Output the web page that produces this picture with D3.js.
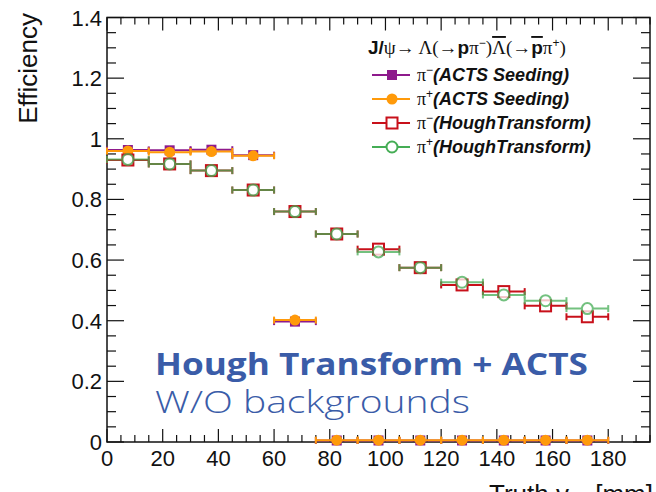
<!DOCTYPE html>
<html>
<head>
<meta charset="utf-8">
<script src="https://cdn.jsdelivr.net/npm/d3@7"></script>
<style>
  body { margin: 0; background: #fff; }
  svg { display: block; }
</style>
</head>
<body>
<div id="chart"></div>
<script>
// Bin centres (mm) and half width of each bin
const binCenters = [7.5, 22.5, 37.5, 52.5, 67.5, 82.5, 97.5, 112.5, 127.5, 142.5, 157.5, 172.5];
const binHalf = 7.5;

// Efficiencies
const actsPiMinus = [0.963, 0.962, 0.964, 0.946, 0.397, 0.005, 0.005, 0.005, 0.005, 0.005, 0.005, 0.005];
const actsPiPlus = [0.960, 0.956, 0.958, 0.944, 0.402, 0.006, 0.006, 0.006, 0.006, 0.006, 0.006, 0.006];
const houghPiMinus = [0.930, 0.917, 0.895, 0.831, 0.760, 0.686, 0.636, 0.575, 0.518, 0.496, 0.449, 0.413];
const houghPiPlus = [0.932, 0.917, 0.895, 0.831, 0.760, 0.686, 0.627, 0.575, 0.527, 0.485, 0.466, 0.440];

const xTicks = [0, 20, 40, 60, 80, 100, 120, 140, 160, 180];
const yTicks = [0, 0.2, 0.4, 0.6, 0.8, 1, 1.2, 1.4];
// legend: particle charge sign and method name
const legendCharge = ["\u2212", "+", "\u2212", "+"];
const legendMethod = ["(ACTS Seeding)", "(ACTS Seeding)", "(HoughTransform)", "(HoughTransform)"];

const width = 656, height = 492;
const margin = {left: 107, right: 6, top: 17.5, bottom: 50};

const svg = d3.select("#chart").append("svg")
    .attr("width", width)
    .attr("height", height);

const x = d3.scaleLinear().domain([0, 195]).range([margin.left, width - margin.right]);
const y = d3.scaleLinear().domain([0, 1.4]).range([height - margin.bottom, margin.top]);

const axisFont = "'Liberation Sans', Arial, sans-serif";
const serifFont = "'Liberation Serif', 'DejaVu Serif', serif";

// Series definitions
const series = [
    {values: actsPiMinus, color: "#8e1a8c", shape: "square", filled: true, opacity: 1},
    {values: actsPiPlus, color: "#ff9a0a", shape: "circle", filled: true, opacity: 1},
    {values: houghPiMinus, color: "#c8101a", shape: "square", filled: false, opacity: 1},
    {values: houghPiPlus, color: "#45ad55", shape: "circle", filled: false, opacity: 0.75}
];

// Frame
svg.append("rect")
    .attr("x", x(0)).attr("y", y(1.4))
    .attr("width", x(195) - x(0)).attr("height", y(0) - y(1.4))
    .attr("fill", "none").attr("stroke", "#111").attr("stroke-width", 1.5);

// Ticks on all four sides, pointing inwards
const xMinor = d3.range(0, 196, 5);
const yMinor = d3.range(0, 1.401, 0.05);
const tickG = svg.append("g").attr("stroke", "#111").attr("stroke-width", 1.2);
xMinor.forEach(v => {
    const len = (Math.round(v) % 20 === 0) ? 13 : 7;
    tickG.append("line").attr("x1", x(v)).attr("x2", x(v)).attr("y1", y(0)).attr("y2", y(0) - len);
    tickG.append("line").attr("x1", x(v)).attr("x2", x(v)).attr("y1", y(1.4)).attr("y2", y(1.4) + len);
});
yMinor.forEach(v => {
    const major = Math.abs(v / 0.2 - Math.round(v / 0.2)) < 1e-6;
    const len = major ? 17 : 9;
    tickG.append("line").attr("x1", x(0)).attr("x2", x(0) + len).attr("y1", y(v)).attr("y2", y(v));
    tickG.append("line").attr("x1", x(195)).attr("x2", x(195) - len).attr("y1", y(v)).attr("y2", y(v));
});

// Tick labels
svg.selectAll("text.xlab").data(xTicks).enter().append("text")
    .attr("class", "xlab")
    .attr("x", d => x(d)).attr("y", y(0) + 24)
    .attr("text-anchor", "middle")
    .attr("font-family", axisFont).attr("font-size", 22).attr("fill", "#111")
    .text(d => d);
svg.selectAll("text.ylab").data(yTicks).enter().append("text")
    .attr("class", "ylab")
    .attr("x", x(0) - 5).attr("y", d => y(d) + 8)
    .attr("text-anchor", "end")
    .attr("font-family", axisFont).attr("font-size", 22).attr("fill", "#111")
    .text(d => d);

// Axis titles
svg.append("text")
    .attr("transform", `translate(37, 13) rotate(-90)`)
    .attr("text-anchor", "end")
    .attr("font-family", axisFont).attr("font-size", 26).attr("fill", "#111")
    .text("Efficiency");
const xt = svg.append("text")
    .attr("x", 653).attr("y", 503)
    .attr("text-anchor", "end")
    .attr("font-family", axisFont).attr("font-size", 26).attr("fill", "#111");
xt.append("tspan").text("Truth v");
xt.append("tspan").attr("font-size", 19).attr("dy", 6).text("xy");
xt.append("tspan").attr("dy", -6).text(" [mm]");

// Data: horizontal error bars with end caps, then markers
const plotG = svg.append("g");
series.forEach(s => {
    const pts = binCenters.map((c, i) => ({c: c, v: s.values[i]}));
    const g = plotG.append("g").attr("opacity", s.opacity);
    g.selectAll("line.err").data(pts).enter().append("line")
        .attr("x1", d => x(d.c - binHalf)).attr("x2", d => x(d.c + binHalf))
        .attr("y1", d => y(d.v)).attr("y2", d => y(d.v))
        .attr("stroke", s.color).attr("stroke-width", 2);
    [-1, 1].forEach(side => {
        g.selectAll(null).data(pts).enter().append("line")
            .attr("x1", d => x(d.c + side * binHalf)).attr("x2", d => x(d.c + side * binHalf))
            .attr("y1", d => y(d.v) - 3.5).attr("y2", d => y(d.v) + 3.5)
            .attr("stroke", s.color).attr("stroke-width", 2);
    });
    drawMarkers(g, pts.map(d => [x(d.c), y(d.v)]), s);
});

function drawMarkers(g, coords, s) {
    if (s.shape === "square") {
        const size = s.filled ? 10 : 11;
        g.selectAll(null).data(coords).enter().append("rect")
            .attr("x", d => d[0] - size / 2).attr("y", d => d[1] - size / 2)
            .attr("width", size).attr("height", size)
            .attr("fill", s.filled ? s.color : "#fff")
            .attr("stroke", s.color).attr("stroke-width", s.filled ? 0 : 2);
    } else {
        g.selectAll(null).data(coords).enter().append("circle")
            .attr("cx", d => d[0]).attr("cy", d => d[1]).attr("r", 5.5)
            .attr("fill", s.filled ? s.color : "#fff")
            .attr("stroke", s.color).attr("stroke-width", s.filled ? 0 : 2);
    }
}

// Legend header
const title = svg.append("text")
    .attr("x", 368).attr("y", 54)
    .attr("font-size", 19).attr("fill", "#111");
title.append("tspan").attr("font-family", axisFont).attr("font-weight", "bold").text("J/");
title.append("tspan").attr("font-family", serifFont).text("\u03C8\u2192   \u039B(\u2192");
title.append("tspan").attr("font-family", axisFont).attr("font-weight", "bold").text("p");
title.append("tspan").attr("font-family", serifFont).text("\u03C0");
title.append("tspan").attr("font-family", axisFont).attr("font-size", 12).attr("dy", -7).text("\u2212");
title.append("tspan").attr("font-family", serifFont).attr("dy", 7).text(")");
title.append("tspan").attr("font-family", serifFont).attr("text-decoration", "overline").text("\u039B");
title.append("tspan").attr("font-family", serifFont).text("(\u2192");
title.append("tspan").attr("font-family", axisFont).attr("font-weight", "bold").attr("text-decoration", "overline").text("p");
title.append("tspan").attr("font-family", serifFont).text("\u03C0");
title.append("tspan").attr("font-family", axisFont).attr("font-size", 12).attr("dy", -7).text("+");
title.append("tspan").attr("font-family", serifFont).attr("dy", 7).text(")");

// Legend rows
const legendRows = [75, 99, 123, 147];
series.forEach((s, i) => {
    const ly = legendRows[i];
    const g = svg.append("g");
    g.append("line").attr("x1", 372).attr("x2", 410).attr("y1", ly).attr("y2", ly)
        .attr("stroke", s.color).attr("stroke-width", 2);
    drawMarkers(g, [[392, ly]], s);
    const t = svg.append("text")
        .attr("x", 417).attr("y", ly + 6)
        .attr("font-size", 18).attr("fill", "#111");
    t.append("tspan").attr("font-family", serifFont).text("\u03C0");
    t.append("tspan").attr("font-family", axisFont).attr("font-size", 12).attr("dy", -7).text(legendCharge[i]);
    t.append("tspan").attr("font-family", axisFont).attr("dy", 7)
        .attr("font-weight", "bold").attr("font-style", "italic")
        .text(legendMethod[i]);
});

// Overlay annotation
svg.append("text")
    .attr("x", 155).attr("y", 375)
    .attr("font-family", "'Open Sans', Lato, sans-serif").attr("font-size", 31)
    .attr("font-weight", "bold").attr("fill", "#3a5ca8")
    .attr("textLength", 433).attr("lengthAdjust", "spacingAndGlyphs")
    .text("Hough Transform + ACTS");
svg.append("text")
    .attr("x", 155).attr("y", 413)
    .attr("font-family", "'Open Sans', Lato, sans-serif").attr("font-size", 31)
    .attr("font-weight", 300).attr("fill", "#3a5ca8")
    .attr("textLength", 315).attr("lengthAdjust", "spacingAndGlyphs")
    .text("W/O backgrounds");
</script>
</body>
</html>
